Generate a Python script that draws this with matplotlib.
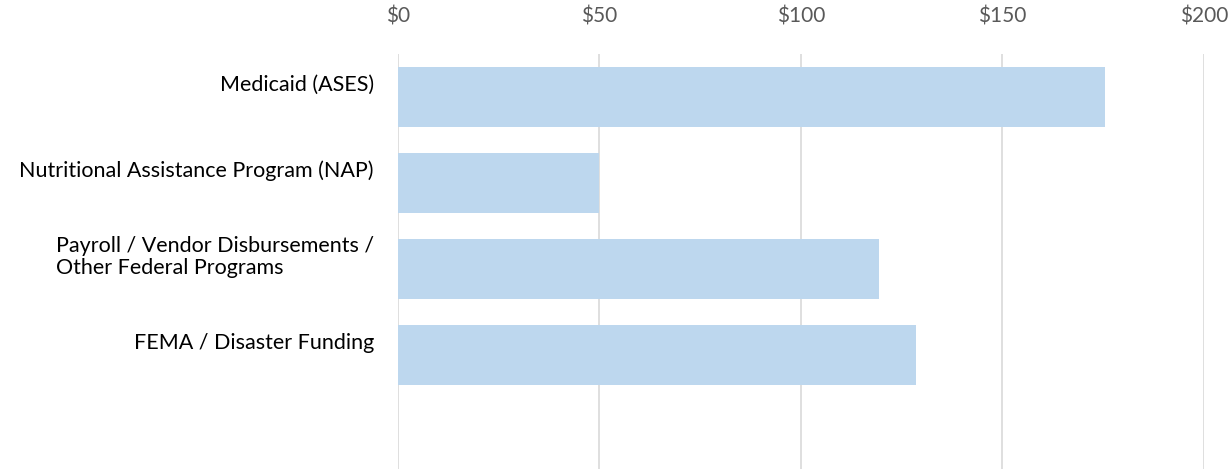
import matplotlib.pyplot as plt

categories = ["Medicaid (ASES)",
              "Nutritional Assistance Program (NAP)",
              "Payroll / Vendor Disbursements /\nOther Federal Programs",
              "FEMA / Disaster Funding"]
values = [175.5, 50, 119.3, 128.5]
ticks = [0, 50, 100, 150, 200]
tick_labels = ["$0", "$50", "$100", "$150", "$200"]

plt.rcParams['font.family'] = ['Lato', 'DejaVu Sans']

fig = plt.figure(figsize=(12.3, 4.69), dpi=100)
# axis runs past the bottom edge: the 5th category slot is empty and cut off
ax = fig.add_axes([398 / 1230, 1 - 484 / 469, (1204 - 398) / 1230, 430 / 469])

pos = list(range(len(categories)))
ax.barh(pos, values, height=0.69, color='#BDD7EE', zorder=2)

ax.set_xlim(0, 200)
ax.set_ylim(4.5, -0.5)
ax.set_xticks(ticks)
ax.set_xticklabels(tick_labels)
ax.xaxis.tick_top()
ax.tick_params(axis='x', length=0, pad=20, labelsize=15, labelcolor='#595959')
ax.grid(axis='x', color='#D9D9D9', linewidth=1.2, zorder=0)

ax.set_yticks([])
for p, name in zip(pos, categories):
    ax.text(-6, p - 0.14, name, ha='right', va='center', multialignment='left',
            fontsize=15.5, linespacing=1.1, color='#000000',
            transform=ax.transData, clip_on=False)

for s in ax.spines.values():
    s.set_visible(False)

fig.savefig('out.png', dpi=100)
